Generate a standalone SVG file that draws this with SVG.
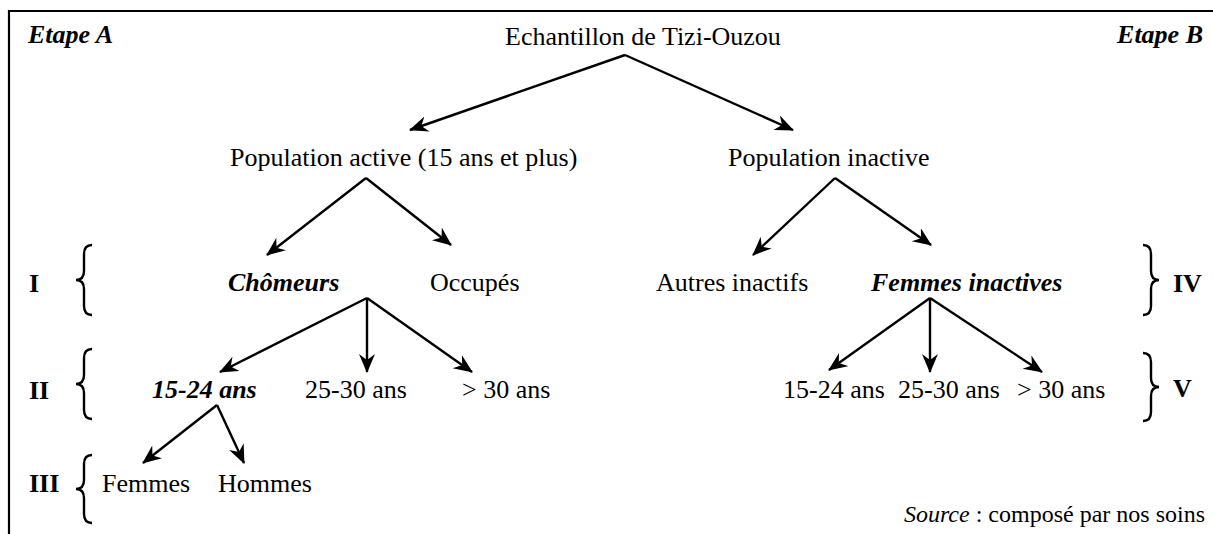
<svg xmlns="http://www.w3.org/2000/svg" width="1213" height="534" viewBox="0 0 1213 534">
<style>
text{font-family:"Liberation Serif","Times New Roman",serif;font-size:26px;fill:#000}
.bi{font-weight:bold;font-style:italic}
.b{font-weight:bold}
.it{font-style:italic}
.c{text-anchor:middle}
.e{text-anchor:end}
.src{font-size:24px}
.conn line{stroke:#000;stroke-width:2.4;marker-end:url(#ah)}
.brace{fill:none;stroke:#000;stroke-width:2.4}
</style>
<defs>
<marker id="ah" markerUnits="userSpaceOnUse" markerWidth="20" markerHeight="18" refX="18" refY="8" orient="auto" viewBox="0 0 20 18">
<path d="M0,0 L19,8 L0,16 L6,8 z" fill="#000"/>
</marker>
</defs>
<rect width="1213" height="534" fill="#fff"/>
<path d="M9,534 L9,11 L1213,11" fill="none" stroke="#000" stroke-width="2.2"/>

<g id="labels">
<text class="bi" x="28" y="43">Etape A</text>
<text class="bi e" x="1203" y="43">Etape B</text>
<text class="b" x="29" y="292">I</text>
<text class="b" x="29" y="399">II</text>
<text class="b" x="29" y="492">III</text>
<text class="b" x="1173" y="292">IV</text>
<text class="b" x="1173" y="397">V</text>
<text class="e src" x="1205" y="522"><tspan class="it">Source</tspan> : composé par nos soins</text>
</g>

<g id="braces">
<path class="brace" d="M92,245 Q84,245 84,254 L84,271 Q84,280 76,280 Q84,280 84,289 L84,306 Q84,315 92,315"/>
<path class="brace" d="M92,349 Q84,349 84,358 L84,375 Q84,384 76,384 Q84,384 84,393 L84,410 Q84,419 92,419"/>
<path class="brace" d="M92,455 Q84,455 84,464 L84,480 Q84,489 76,489 Q84,489 84,498 L84,514 Q84,523 92,523"/>
<path class="brace" d="M1143,245 Q1151,245 1151,254 L1151,271 Q1151,280 1159,280 Q1151,280 1151,289 L1151,306 Q1151,315 1143,315"/>
<path class="brace" d="M1143,353 Q1151,353 1151,362 L1151,378 Q1151,387 1159,387 Q1151,387 1151,396 L1151,412 Q1151,421 1143,421"/>
</g>

<g id="n-root"><text x="505" y="45">Echantillon de Tizi-Ouzou</text></g>
<g id="n-active"><text x="230" y="166">Population active (15 ans et plus)</text></g>
<g id="n-inactive"><text x="728" y="166">Population inactive</text></g>
<g id="n-chomeurs"><text class="bi" x="228" y="291">Chômeurs</text></g>
<g id="n-occupes"><text x="430" y="291">Occupés</text></g>
<g id="n-autres"><text x="656" y="291">Autres inactifs</text></g>
<g id="n-femmesinact"><text class="bi" x="871" y="291">Femmes inactives</text></g>
<g id="n-c1524"><text class="bi" x="152" y="398">15-24 ans</text></g>
<g id="n-c2530"><text x="305" y="398">25-30 ans</text></g>
<g id="n-c30"><text x="462" y="398">&gt; 30 ans</text></g>
<g id="n-f1524"><text x="783" y="398">15-24 ans</text></g>
<g id="n-f2530"><text x="898" y="398">25-30 ans</text></g>
<g id="n-f30"><text x="1017" y="398">&gt; 30 ans</text></g>
<g id="n-femmes"><text x="102" y="492">Femmes</text></g>
<g id="n-hommes"><text x="218" y="492">Hommes</text></g>

<g id="connectors" class="conn">
<line x1="625" y1="55" x2="410" y2="130"/>
<line x1="625" y1="55" x2="793" y2="130"/>
<line x1="366" y1="178" x2="267" y2="255"/>
<line x1="366" y1="178" x2="451" y2="245"/>
<line x1="835" y1="178" x2="753" y2="255"/>
<line x1="835" y1="178" x2="931" y2="245"/>
<line x1="367" y1="298" x2="220" y2="372"/>
<line x1="367" y1="298" x2="367" y2="372"/>
<line x1="367" y1="298" x2="472" y2="372"/>
<line x1="930" y1="298" x2="829" y2="370"/>
<line x1="930" y1="298" x2="930" y2="372"/>
<line x1="930" y1="298" x2="1042" y2="372"/>
<line x1="217" y1="405" x2="143" y2="463"/>
<line x1="217" y1="405" x2="244" y2="463"/>
</g>
</svg>
